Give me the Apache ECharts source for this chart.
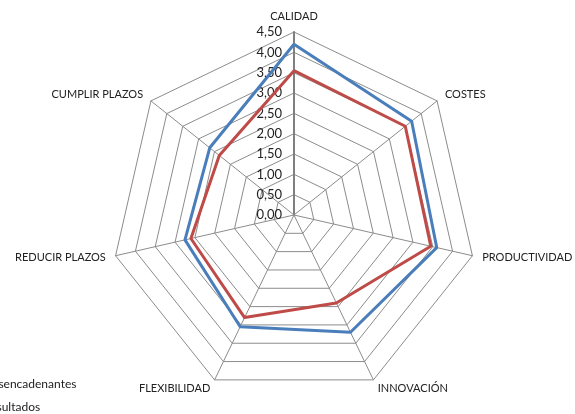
<!DOCTYPE html>
<html>
<head>
<meta charset="utf-8">
<script src="https://cdn.jsdelivr.net/npm/echarts@6/dist/echarts.min.js"></script>
<style>
  html, body { margin: 0; padding: 0; background: #fff; }
  #chart { width: 575px; height: 414px; }
</style>
</head>
<body>
<div id="chart"></div>
<script>
// Indicators listed clockwise from the top
const categories = ['CALIDAD', 'COSTES', 'PRODUCTIVIDAD', 'INNOVACIÓN', 'FLEXIBILIDAD', 'REDUCIR PLAZOS', 'CUMPLIR PLAZOS'];
const seriesNames = ['Desencadenantes', 'Resultados'];
const desencadenantes = [4.2, 3.7, 3.6, 3.2, 3.05, 2.75, 2.65];
const resultados = [3.55, 3.5, 3.45, 2.4, 2.8, 2.6, 2.35];
const scaleMax = 4.5;
const scaleStep = 0.5;

// ECharts lays radar indicators out counter-clockwise; keep the first one at top
// and reverse the rest so they run clockwise.
const order = [0].concat(categories.map((_, i) => i).slice(1).reverse());
const pick = arr => order.map(i => arr[i]);

const fontFamily = 'Lato, "Open Sans", sans-serif';
const gridColor = '#8c8c8c';

const indicator = pick(categories).map((name, k) => {
  const ind = { name: name, min: 0, max: scaleMax };
  if (k === 0) {
    ind.axisLabel = {
      show: true,
      color: '#222',
      fontSize: 13,
      fontFamily: fontFamily,
      margin: 12,
      formatter: v => v.toFixed(2).replace('.', ',')
    };
    ind.axisLine = { lineStyle: { color: '#7f7f7f', width: 2 } };
  }
  return ind;
});

const chart = echarts.init(document.getElementById('chart'), null, { renderer: 'canvas' });
chart.setOption({
  animation: false,
  backgroundColor: '#ffffff',
  legend: {
    orient: 'vertical',
    left: -42,
    top: 378,
    height: 80,
    padding: 0,
    itemGap: 11,
    itemWidth: 20,
    itemHeight: 3,
    icon: 'rect',
    textStyle: { color: '#222', fontSize: 12, fontFamily: fontFamily },
    data: seriesNames
  },
  radar: {
    center: [294, 215],
    radius: 183,
    startAngle: 90,
    shape: 'polygon',
    splitNumber: Math.round(scaleMax / scaleStep),
    indicator: indicator,
    axisName: { color: '#222', fontSize: 11, fontFamily: fontFamily },
    nameGap: 10,
    axisLine: { show: true, lineStyle: { color: gridColor, width: 1 } },
    splitLine: { show: true, lineStyle: { color: gridColor, width: 1 } },
    splitArea: { show: false },
    axisTick: { show: false },
    axisLabel: { show: false }
  },
  series: [{
    type: 'radar',
    symbol: 'none',
    data: [
      { name: seriesNames[0], value: pick(desencadenantes),
        lineStyle: { color: '#4a7ebb', width: 3 }, itemStyle: { color: '#4a7ebb' } },
      { name: seriesNames[1], value: pick(resultados),
        lineStyle: { color: '#be4b48', width: 3 }, itemStyle: { color: '#be4b48' } }
    ]
  }]
});
</script>
</body>
</html>
